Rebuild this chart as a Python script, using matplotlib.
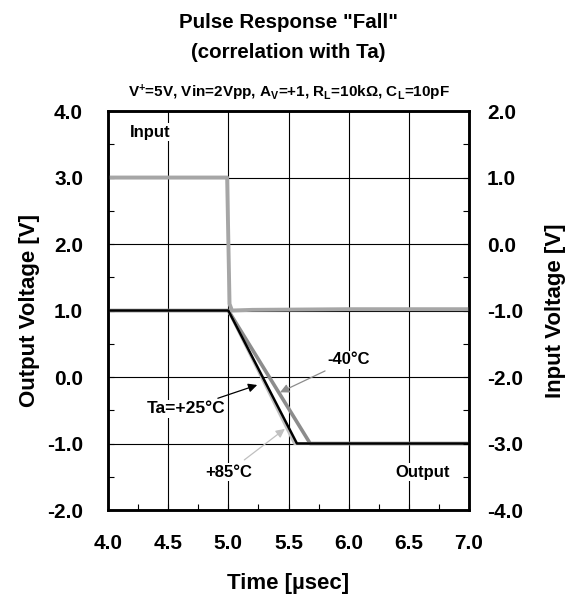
import matplotlib
matplotlib.use("Agg")
import matplotlib.pyplot as plt
from matplotlib.ticker import MultipleLocator

plt.rcParams["font.family"] = ["Liberation Sans", "DejaVu Sans"]
plt.rcParams["font.weight"] = "bold"
plt.rcParams["mathtext.default"] = "regular"

# output response (left axis) per temperature
t_25 = [4.0, 5.0, 5.57, 7.0]
v_25 = [1.0, 1.0, -1.0, -1.0]
t_m40 = [4.0, 5.0, 5.68, 7.0]
v_m40 = [1.0, 1.0, -1.0, -1.0]
t_85 = [4.0, 5.0, 5.55, 7.0]
v_85 = [1.0, 1.0, -1.0, -1.0]

# input pulse (right axis)
t_in = [4.0, 4.99, 5.01, 5.03, 5.2, 6.0, 7.0]
v_in = [1.0, 1.0, -0.9, -1.0, -0.99, -0.98, -0.98]

fig = plt.figure(figsize=(5.77, 5.94), dpi=100)
ax = fig.add_axes([0.1872, 0.1414, 0.6256, 0.6717])
ax2 = ax.twinx()

ax.set_xlim(4.0, 7.0)
ax.set_ylim(-2.0, 4.0)
ax2.set_ylim(-4.0, 2.0)

ax.grid(True, color="black", linewidth=0.8)
ax.set_axisbelow(True)

ax2.plot(t_in, v_in, color="#a6a6a6", linewidth=2.8, zorder=2)
ax.plot(t_m40, v_m40, color="#8c8c8c", linewidth=2.6, zorder=3)
ax.plot(t_85, v_85, color="#c0c0c0", linewidth=2.2, zorder=3)
ax.plot(t_25, v_25, color="black", linewidth=1.8, zorder=4)

for a in (ax, ax2):
    for s in a.spines.values():
        s.set_linewidth(1.8)
    a.tick_params(which="both", direction="in", labelsize=15)
    a.tick_params(which="major", length=4, width=0.8)
    a.tick_params(which="minor", length=4, width=0.8)

ax.xaxis.set_major_locator(MultipleLocator(0.5))
ax.xaxis.set_minor_locator(MultipleLocator(0.25))
ax.yaxis.set_major_locator(MultipleLocator(1.0))
ax.yaxis.set_minor_locator(MultipleLocator(0.5))
ax2.yaxis.set_major_locator(MultipleLocator(1.0))
ax2.yaxis.set_minor_locator(MultipleLocator(0.5))
ax.xaxis.set_major_formatter(lambda v, p: f"{v:.1f}")
ax.yaxis.set_major_formatter(lambda v, p: f"{v:.1f}")
ax2.yaxis.set_major_formatter(lambda v, p: f"{v:.1f}")
ax.tick_params(axis="y", pad=18)
ax.tick_params(axis="x", pad=17)
ax2.tick_params(axis="y", pad=13)

ax.set_xlabel("Time [µsec]", fontsize=16, fontweight="bold", labelpad=15)
ax.set_ylabel("Output Voltage [V]", fontsize=16, fontweight="bold", labelpad=5)
ax2.set_ylabel("Input Voltage [V]", fontsize=16, fontweight="bold", labelpad=16)

fig.text(0.5, 0.962, 'Pulse Response "Fall"', ha="center", va="center",
         fontsize=14.8, fontweight="bold")
fig.text(0.5, 0.912, "(correlation with Ta)", ha="center", va="center",
         fontsize=14.8, fontweight="bold")
fig.text(0.5, 0.843,
         r"V$^{+}$=5V, Vin=2Vpp, A$_{V}$=+1, R$_{L}$=10kΩ, C$_{L}$=10pF",
         ha="center", va="center", fontsize=11, fontweight="bold")

box = dict(facecolor="white", edgecolor="none", pad=1)
ax.text(4.18, 3.68, "Input", fontsize=12, fontweight="bold", va="center",
        bbox=box, zorder=5)
ax.text(6.84, -1.43, "Output", fontsize=12, fontweight="bold", va="center",
        ha="right", bbox=box, zorder=5)

ax.annotate("-40°C", xy=(5.43, -0.23), xytext=(6.0, 0.26),
            fontsize=12, fontweight="bold", ha="center", va="center",
            bbox=box, zorder=5,
            arrowprops=dict(arrowstyle="-|>", color="#8c8c8c", lw=0.9,
                            mutation_scale=13, shrinkA=4, shrinkB=0))
ax.annotate("Ta=+25°C", xy=(5.24, -0.12), xytext=(4.65, -0.48),
            fontsize=12.5, fontweight="bold", ha="center", va="center",
            bbox=box, zorder=5,
            arrowprops=dict(arrowstyle="-|>", color="black", lw=0.9,
                            mutation_scale=13, shrinkA=4, shrinkB=0))
ax.annotate("+85°C", xy=(5.47, -0.78), xytext=(5.0, -1.43),
            fontsize=12, fontweight="bold", ha="center", va="center",
            bbox=box, zorder=5,
            arrowprops=dict(arrowstyle="-|>", color="#c0c0c0", lw=0.9,
                            mutation_scale=13, shrinkA=4, shrinkB=0))

fig.savefig("out.png", dpi=100)
